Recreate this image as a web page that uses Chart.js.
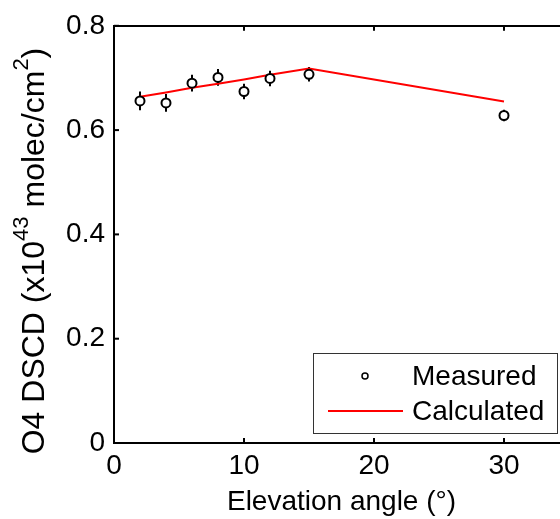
<!DOCTYPE html>
<html>
<head>
<meta charset="utf-8">
<script src="https://cdn.jsdelivr.net/npm/chart.js@4.4.1/dist/chart.umd.min.js"></script>
<style>
html,body{margin:0;padding:0;background:#fff;overflow:hidden;width:560px;height:519px;}
canvas{display:block;}
</style>
</head>
<body>
<canvas id="c" width="600" height="519" style="width:600px;height:519px"></canvas>
<script>
// ---- data ----
const elevationAngles = [2, 4, 6, 8, 10, 12, 15, 30];
const measuredValues  = [0.656, 0.652, 0.690, 0.701, 0.674, 0.699, 0.707, 0.628];
const measuredErrors  = [0.018, 0.017, 0.016, 0.016, 0.015, 0.015, 0.014, 0.011];
const calculatedValues= [0.664, 0.672, 0.681, 0.689, 0.697, 0.706, 0.718, 0.655];
const xTicks = [0, 10, 20, 30];
const yTicks = [0, 0.2, 0.4, 0.6, 0.8];
const legendLabels = ['Measured', 'Calculated'];
const xTitle = 'Elevation angle (°)';
const yTitleParts = [['O4 DSCD (x10', false], ['43', true], [' molec/cm', false], ['2', true], [')', false]];

const FONT = '"Liberation Sans", Arial, sans-serif';
const FS = 28;
const YFS = 32;

const measuredPts = elevationAngles.map((x, i) => ({x, y: measuredValues[i]}));
const calcPts = elevationAngles.map((x, i) => ({x, y: calculatedValues[i]}));

const decor = {
  id: 'decor',
  beforeDatasetsDraw(chart) {
    const {ctx, scales: {x, y}} = chart;
    ctx.save();
    ctx.strokeStyle = '#000';
    ctx.lineWidth = 2;
    elevationAngles.forEach((a, i) => {
      const px = x.getPixelForValue(a);
      ctx.beginPath();
      ctx.moveTo(px, y.getPixelForValue(measuredValues[i] - measuredErrors[i]));
      ctx.lineTo(px, y.getPixelForValue(measuredValues[i] + measuredErrors[i]));
      ctx.stroke();
    });
    ctx.restore();
  },
  afterDraw(chart) {
    const {ctx, chartArea: ca, scales: {x, y}} = chart;
    ctx.save();
    ctx.strokeStyle = '#000';
    ctx.lineWidth = 2;
    const tl = 5;
    xTicks.forEach(v => {
      const px = x.getPixelForValue(v);
      ctx.beginPath();
      ctx.moveTo(px, ca.bottom); ctx.lineTo(px, ca.bottom - tl);
      ctx.moveTo(px, ca.top); ctx.lineTo(px, ca.top + tl);
      ctx.stroke();
    });
    yTicks.forEach(v => {
      const py = y.getPixelForValue(v);
      ctx.beginPath();
      ctx.moveTo(ca.left, py); ctx.lineTo(ca.left + tl, py);
      ctx.stroke();
    });
    // y title with superscripts
    const big = YFS + 'px ' + FONT, small = Math.round(YFS * 0.7) + 'px ' + FONT;
    let total = 0;
    yTitleParts.forEach(([t, sup]) => { ctx.font = sup ? small : big; total += ctx.measureText(t).width; });
    ctx.translate(35, 251);
    ctx.rotate(-Math.PI / 2);
    ctx.fillStyle = '#000';
    ctx.textBaseline = 'middle';
    ctx.textAlign = 'left';
    let cx = -total / 2;
    yTitleParts.forEach(([t, sup]) => {
      ctx.font = sup ? small : big;
      ctx.fillText(t, cx, sup ? -13 : 0);
      cx += ctx.measureText(t).width;
    });
    ctx.restore();

    // legend
    ctx.save();
    ctx.fillStyle = '#fff';
    ctx.fillRect(313, 353, 244, 80);
    ctx.strokeStyle = '#333';
    ctx.lineWidth = 1;
    ctx.strokeRect(313.5, 353.5, 244, 80);
    ctx.strokeStyle = '#000';
    ctx.lineWidth = 1.5;
    ctx.beginPath();
    ctx.arc(365, 376, 3, 0, Math.PI * 2);
    ctx.stroke();
    ctx.strokeStyle = '#ff0000';
    ctx.lineWidth = 2;
    ctx.beginPath();
    ctx.moveTo(328, 411); ctx.lineTo(403, 411);
    ctx.stroke();
    ctx.fillStyle = '#000';
    ctx.font = FS + 'px ' + FONT;
    ctx.textBaseline = 'middle';
    ctx.textAlign = 'left';
    ctx.fillText(legendLabels[0], 412, 377);
    ctx.fillText(legendLabels[1], 412, 412);
    ctx.restore();
  }
};

new Chart(document.getElementById('c'), {
  type: 'scatter',
  data: {
    datasets: [
      {
        label: legendLabels[0], data: measuredPts, showLine: false,
        pointStyle: 'circle', pointRadius: 4.5, pointBorderWidth: 2,
        borderColor: '#000', backgroundColor: '#fff', pointHoverRadius: 4.5
      },
      {
        label: legendLabels[1], data: calcPts, showLine: true,
        borderColor: '#ff0000', borderWidth: 2, pointRadius: 0, tension: 0, fill: false
      }
    ]
  },
  options: {
    responsive: false,
    animation: false,
    events: [],
    layout: {padding: {top: 22, right: 31, left: 0, bottom: 0}},
    plugins: {legend: {display: false}, tooltip: {enabled: false}},
    scales: {
      x: {
        type: 'linear', position: 'bottom', min: 0, max: 35,
        afterBuildTicks: s => { s.ticks = xTicks.map(v => ({value: v})); },
        ticks: {color: '#000', font: {family: FONT, size: FS}, padding: 6, maxRotation: 0},
        grid: {display: true, drawOnChartArea: false, drawTicks: false},
        border: {display: true, color: '#000', width: 2},
        title: {display: true, text: xTitle, color: '#000', font: {family: FONT, size: FS}, padding: {top: 0, bottom: 0}},
        afterFit: s => { s.height = 76; }
      },
      x2: {
        type: 'linear', position: 'top', min: 0, max: 35,
        ticks: {display: false},
        grid: {display: true, drawOnChartArea: false, drawTicks: false},
        border: {display: true, color: '#000', width: 2},
        afterFit: s => { s.height = 0; }
      },
      y: {
        type: 'linear', position: 'left', min: 0, max: 0.8,
        afterBuildTicks: s => { s.ticks = yTicks.map(v => ({value: v})); },
        ticks: {color: '#000', font: {family: FONT, size: FS}, padding: 9},
        grid: {display: true, drawOnChartArea: false, drawTicks: false},
        border: {display: true, color: '#000', width: 2},
        afterFit: s => { s.width = 114; }
      }
    }
  },
  plugins: [decor]
});
</script>
</body>
</html>
